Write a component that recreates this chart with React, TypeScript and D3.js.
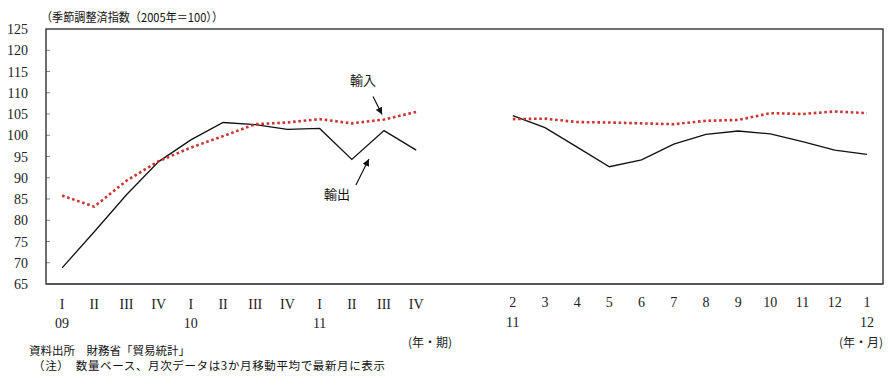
import React from "react";
import * as d3 from "d3";

const quarterKeys = ["09Q1","09Q2","09Q3","09Q4","10Q1","10Q2","10Q3","10Q4","11Q1","11Q2","11Q3","11Q4"];
const quarterLabels = ["I","II","III","IV","I","II","III","IV","I","II","III","IV"];
const quarterYears = ["09","","","","10","","","","11","","",""];
const exportsQ = [68.8, 77.3, 86.0, 93.8, 98.9, 103.0, 102.5, 101.4, 101.6, 94.3, 101.1, 96.5];
const importsQ = [85.8, 83.2, 89.3, 93.9, 97.1, 99.8, 102.6, 103.0, 103.8, 102.8, 103.7, 105.5];

const gapKeys = ["gap1","gap2"];

const monthKeys = ["11-02","11-03","11-04","11-05","11-06","11-07","11-08","11-09","11-10","11-11","11-12","12-01"];
const monthLabels = ["2","3","4","5","6","7","8","9","10","11","12","1"];
const monthYears = ["11","","","","","","","","","","","12"];
const exportsM = [104.6, 101.8, 97.2, 92.6, 94.2, 97.9, 100.2, 101.0, 100.3, 98.5, 96.5, 95.5];
const importsM = [103.8, 103.9, 103.1, 103.0, 102.8, 102.6, 103.4, 103.6, 105.2, 105.0, 105.6, 105.2];

const yTicks = [65, 70, 75, 80, 85, 90, 95, 100, 105, 110, 115, 120, 125];

const W = 895, H = 385;
const L = 46, R = 883, T = 29, B = 284;

export default function App() {
  const x = d3.scaleBand<string>()
    .domain([...quarterKeys, ...gapKeys, ...monthKeys])
    .range([L, R])
    .padding(0);
  const cx = (k: string) => (x(k) as number) + x.bandwidth() / 2;
  const y = d3.scaleLinear().domain([65, 125]).range([B, T]);

  const line = d3.line<[string, number]>()
    .x((d) => cx(d[0]))
    .y((d) => y(d[1]));

  const zip = (keys: string[], vals: number[]) => keys.map((k, i) => [k, vals[i]] as [string, number]);

  const serif = "'Liberation Serif', 'Times New Roman', serif";
  const sans = "'Noto Sans CJK JP', 'Noto Sans', sans-serif";

  // annotation anchors from data
  const impTipX = cx("11Q3") - 2;
  const impTipY = y(importsQ[10]) - 5;
  const expTipX = (cx("11Q2") + cx("11Q3")) / 2 + 1;
  const expTipY = y((exportsQ[9] + exportsQ[10]) / 2) + 14;

  return (
    <svg width={W} height={H} style={{ display: "block", position: "absolute", left: 0, top: 0 }}>
      <defs>
        <marker id="ah" viewBox="0 0 10 10" refX="10" refY="5" markerWidth="7" markerHeight="7" orient="auto" markerUnits="userSpaceOnUse">
          <path d="M0,0 L10,5 L0,10 z" fill="#111" />
        </marker>
      </defs>
      <rect x={0} y={0} width={W} height={H} fill="#fff" />
      <text x={41} y={22} fontFamily={sans} fontSize={12} fill="#111" textLength={182} lengthAdjust="spacingAndGlyphs">（季節調整済指数（2005年＝100））</text>

      {/* y ticks & labels */}
      {yTicks.map((t) => (
        <g key={t}>
          {t > 65 && t < 125 && (
            <line x1={L} x2={L + 4} y1={y(t)} y2={y(t)} stroke="#888" strokeWidth={1} />
          )}
          <text x={28} y={y(t) + 5} textAnchor="end" fontFamily={serif} fontSize={14} fill="#222">{t}</text>
        </g>
      ))}

      {/* frame */}
      <rect x={L} y={T} width={R - L} height={B - T} fill="none" stroke="#222" strokeWidth={1.3} />
      <line x1={L} x2={R} y1={B} y2={B} stroke="#555" strokeWidth={2.2} />

      {/* lines */}
      <path d={line(zip(quarterKeys, exportsQ)) || ""} fill="none" stroke="#111" strokeWidth={1.3} />
      <path d={line(zip(monthKeys, exportsM)) || ""} fill="none" stroke="#111" strokeWidth={1.3} />
      <path d={line(zip(quarterKeys, importsQ)) || ""} fill="none" stroke="#cc3333" strokeWidth={2.6} strokeDasharray="2.6 2.7" />
      <path d={line(zip(monthKeys, importsM)) || ""} fill="none" stroke="#cc3333" strokeWidth={2.6} strokeDasharray="2.6 2.7" />

      {/* x labels */}
      {quarterKeys.map((k, i) => (
        <g key={k}>
          <text x={cx(k)} y={309} textAnchor="middle" fontFamily={serif} fontSize={14} fill="#222">{quarterLabels[i]}</text>
          {quarterYears[i] && (
            <text x={cx(k)} y={328} textAnchor="middle" fontFamily={serif} fontSize={14} fill="#222">{quarterYears[i]}</text>
          )}
        </g>
      ))}
      {monthKeys.map((k, i) => (
        <g key={k}>
          <text x={cx(k)} y={307} textAnchor="middle" fontFamily={serif} fontSize={14} fill="#222">{monthLabels[i]}</text>
          {monthYears[i] && (
            <text x={cx(k)} y={327} textAnchor="middle" fontFamily={serif} fontSize={14} fill="#222">{monthYears[i]}</text>
          )}
        </g>
      ))}
      <text x={408} y={347} fontFamily={sans} fontSize={12} fill="#222">(年・期)</text>
      <text x={839} y={347} fontFamily={sans} fontSize={12} fill="#222">(年・月)</text>

      {/* annotations */}
      <text x={impTipX - 19} y={85} textAnchor="middle" fontFamily={sans} fontSize={13} fill="#111">輸入</text>
      <line x1={impTipX - 9} y1={impTipY - 18} x2={impTipX} y2={impTipY} stroke="#111" strokeWidth={1.2} markerEnd="url(#ah)" />
      <text x={expTipX - 32} y={199} textAnchor="middle" fontFamily={sans} fontSize={13} fill="#111">輸出</text>
      <line x1={expTipX - 13} y1={expTipY + 26} x2={expTipX} y2={expTipY} stroke="#111" strokeWidth={1.2} markerEnd="url(#ah)" />

      {/* notes */}
      <text x={29} y={355} fontFamily={sans} fontSize={11.5} fill="#111" textLength={161} lengthAdjust="spacing">資料出所　財務省「貿易統計」</text>
      <text x={33} y={370} fontFamily={sans} fontSize={11.5} fill="#111" textLength={352} lengthAdjust="spacing">（注）　数量ベース、月次データは3か月移動平均で最新月に表示</text>
    </svg>
  );
}
